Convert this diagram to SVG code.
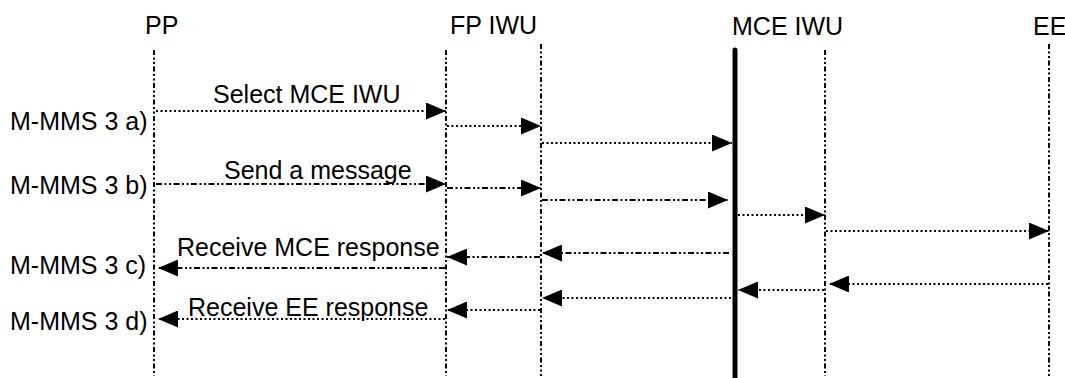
<svg xmlns="http://www.w3.org/2000/svg" width="1065" height="378" viewBox="0 0 1065 378">
<style>
text{font-family:"Liberation Sans",Arial,sans-serif;font-size:25px;fill:#000}
.life{stroke:#000;stroke-width:2;stroke-dasharray:5 2.5 2 2.5 2 2.5;fill:none}
.dot{stroke:#000;stroke-width:2;stroke-dasharray:2 2.5;fill:none;marker-end:url(#ah)}
.dd{stroke:#000;stroke-width:2;stroke-dasharray:6 2.5 2 2.5 2 2.5;fill:none;marker-end:url(#ah)}
</style>
<defs>
<marker id="ah" markerUnits="userSpaceOnUse" markerWidth="20" markerHeight="17" refX="20" refY="8.5" orient="auto">
<path d="M0,0 L20,8.5 L0,17 z" fill="#000"/>
</marker>
</defs>
<rect width="1065" height="378" fill="#fff"/>
<g id="PP"><text x="145" y="34">PP</text><line class="life" x1="154" y1="50" x2="154" y2="376"/></g>
<g id="FP_IWU"><text x="450" y="34">FP IWU</text><line class="life" x1="446" y1="50" x2="446" y2="376"/><line class="life" x1="541" y1="44" x2="541" y2="376"/></g>
<g id="MCE_IWU"><text x="732" y="35">MCE IWU</text><line x1="735" y1="50" x2="735" y2="378" stroke="#000" stroke-width="5" stroke-linecap="round"/><line class="life" x1="825" y1="50" x2="825" y2="376"/></g>
<g id="EE"><text x="1033" y="35">EE</text><line class="life" x1="1049" y1="44" x2="1049" y2="376"/></g>
<g id="labels">
<text x="10" y="130">M-MMS 3 a)</text>
<text x="10" y="194">M-MMS 3 b)</text>
<text x="10" y="274">M-MMS 3 c)</text>
<text x="10" y="330">M-MMS 3 d)</text>
<text x="213" y="103">Select MCE IWU</text>
<text x="224" y="179">Send a message</text>
<text x="177" y="256">Receive MCE response</text>
<text x="188" y="316">Receive EE response</text>
</g>
<g id="connectors">
<line class="dot" x1="156" y1="111" x2="446" y2="111"/>
<line class="dot" x1="447" y1="126" x2="541" y2="126"/>
<line class="dot" x1="542" y1="143" x2="732" y2="143"/>
<line class="dd" x1="156" y1="184" x2="446" y2="184"/>
<line class="dd" x1="447" y1="188" x2="541" y2="188"/>
<line class="dd" x1="542" y1="200" x2="728" y2="200"/>
<line class="dot" x1="738" y1="215" x2="825" y2="215"/>
<line class="dot" x1="826" y1="231" x2="1049" y2="231"/>
<line class="dd" x1="729" y1="253" x2="542" y2="253"/>
<line class="dd" x1="540" y1="257" x2="447" y2="257"/>
<line class="dd" x1="445" y1="268" x2="158" y2="268"/>
<line class="dot" x1="1048" y1="284" x2="829" y2="284"/>
<line class="dot" x1="824" y1="290" x2="738" y2="290"/>
<line class="dot" x1="731" y1="298" x2="542" y2="298"/>
<line class="dot" x1="540" y1="310" x2="447" y2="310"/>
<line class="dot" x1="445" y1="319" x2="158" y2="319"/>
</g>
</svg>
